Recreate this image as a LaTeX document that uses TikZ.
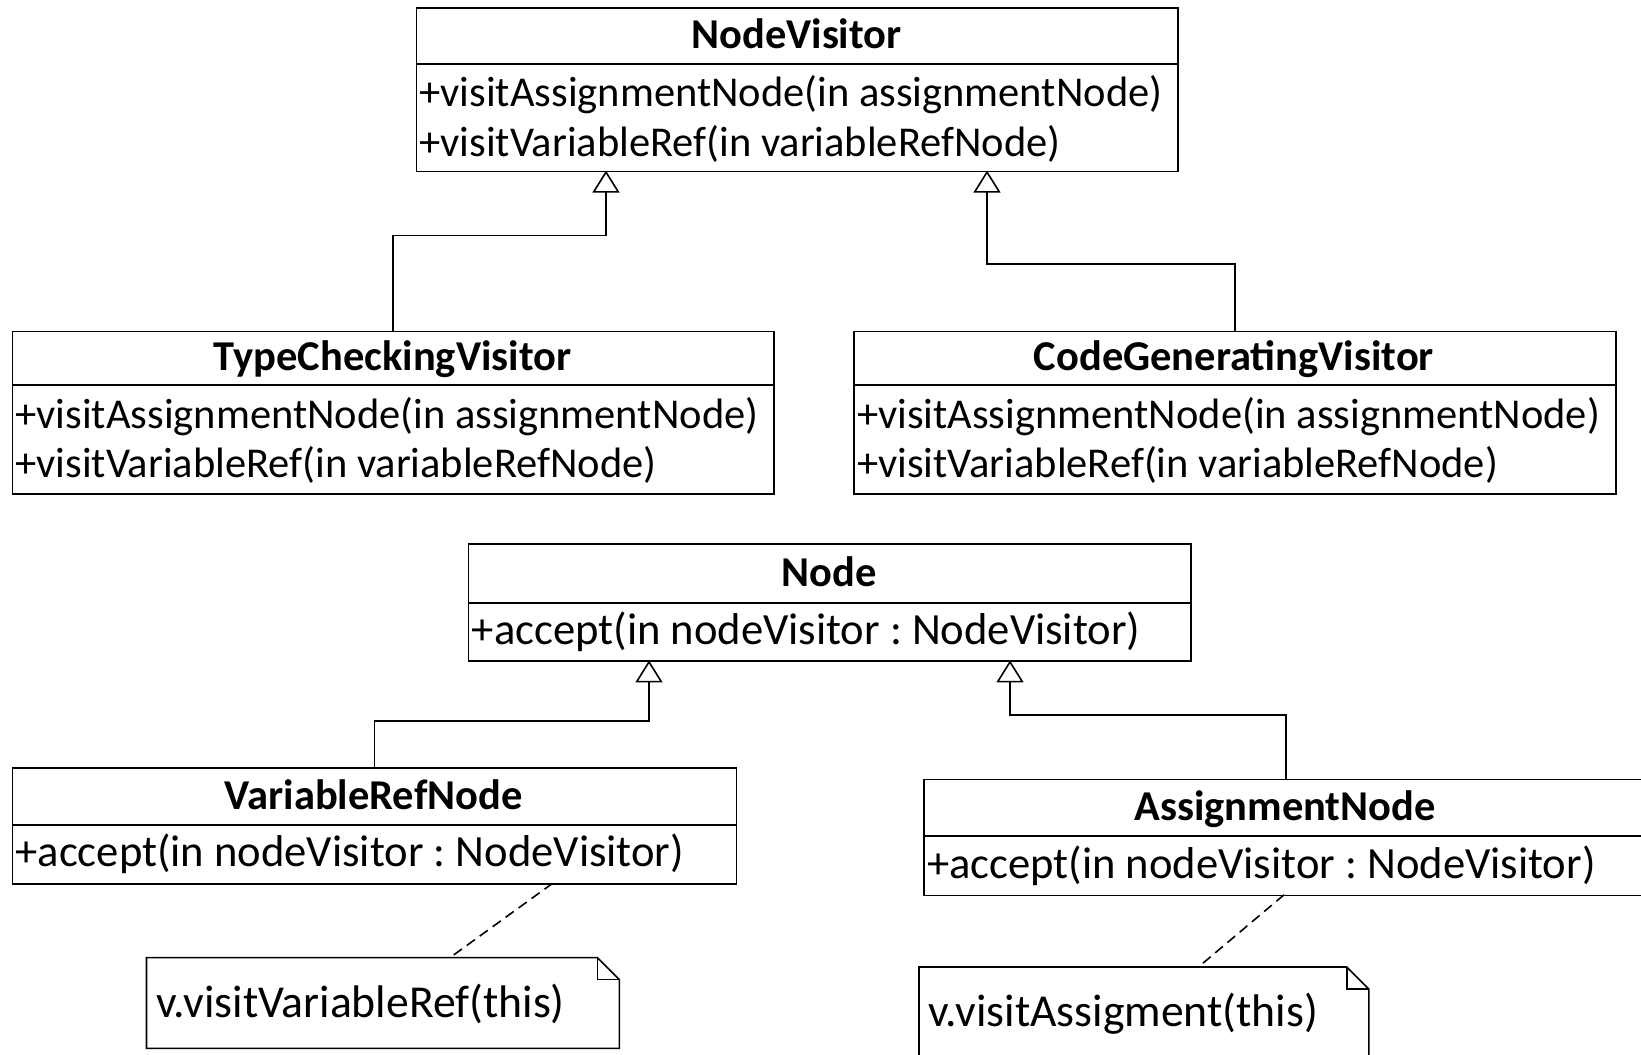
\documentclass[tikz,border=0pt]{standalone}
\usepackage{fontspec}
\setmainfont{Carlito}
\usetikzlibrary{arrows.meta}
\frenchspacing

\newcommand\umlfont{\fontsize{21.25pt}{24.5pt}\selectfont}
\newcommand\accfont{\fontsize{22.3pt}{25pt}\selectfont}
\newcommand\notefont{\fontsize{22.85pt}{26pt}\selectfont}

\tikzset{
  classbox/.style={draw, line width=0.8pt, anchor=north west, inner sep=0pt},
  ttl/.style={font=\umlfont\bfseries, text height=0.5em, text depth=0.5em, inner sep=0pt, yshift=-6.5pt},
  op/.style={font=\umlfont, anchor=west, text height=0.5em, text depth=0.5em, inner xsep=1.8pt, inner ysep=0pt, yshift=-7.35pt},
  acc/.style={op, font=\accfont, yshift=0.55pt},
  notetext/.style={op, font=\notefont, inner xsep=0pt, yshift=-0.4pt},
  sepline/.style={line width=0.8pt},
  inh/.style={line width=0.8pt, -{Triangle[open, length=11pt, width=13.5pt, fill=white]}},
  notelink/.style={line width=0.8pt, dash pattern=on 5pt off 3pt},
  notebox/.style={anchor=north west, inner sep=0pt},
  noteline/.style={line width=0.8pt, line join=miter},
}

\begin{document}
\begin{tikzpicture}[x=0.5pt, y=-0.5pt]
\useasboundingbox (0,0) rectangle (1641,1054);
\clip (0,0) rectangle (1641,1054);
\fill[white] (0,0) rectangle (1641,1054);

% ---------- NodeVisitor ----------
\node[classbox, minimum width=380.95pt, minimum height=81.65pt] (nv) at (415.5,7.3) {};
\draw[sepline] (415.5,63.8) -- (1177.4,63.8);
\node[ttl] (nvT) at (796.5,35.5) {NodeVisitor};
\node[op] (nv1) at (415.5,92) {+visitAssignmentNode(in assignmentNode)};
\node[op] (nv2) at (415.5,141.3) {+visitVariableRef(in variableRefNode)};

% ---------- TypeCheckingVisitor ----------
\node[classbox, minimum width=380.95pt, minimum height=81.15pt] (tc) at (11.5,330.7) {};
\draw[sepline] (11.5,385.1) -- (773.4,385.1);
\node[ttl] (tcT) at (392.5,357.9) {TypeCheckingVisitor};
\node[op] (tc1) at (11.5,413.4) {+visitAssignmentNode(in assignmentNode)};
\node[op] (tc2) at (11.5,463) {+visitVariableRef(in variableRefNode)};

% ---------- CodeGeneratingVisitor ----------
\node[classbox, minimum width=380.95pt, minimum height=81.15pt] (cg) at (853,330.7) {};
\draw[sepline] (853,385.1) -- (1614.9,385.1);
\node[ttl] (cgT) at (1234,357.9) {CodeGeneratingVisitor};
\node[op] (cg1) at (853,413.4) {+visitAssignmentNode(in assignmentNode)};
\node[op] (cg2) at (853,463) {+visitVariableRef(in variableRefNode)};

% ---------- Node ----------
\node[classbox, minimum width=361.1pt, minimum height=58.6pt] (nd) at (467.8,543.2) {};
\draw[sepline] (467.8,602.8) -- (1190,602.8);
\node[ttl] (ndT) at (829,573) {Node};
\node[acc] (nd1) at (467.8,631.1) {+accept(in nodeVisitor : NodeVisitor)};

% ---------- VariableRefNode ----------
\node[classbox, minimum width=362.15pt, minimum height=58.05pt] (vr) at (11.5,767.2) {};
\draw[sepline] (11.5,824.7) -- (735.8,824.7);
\node[ttl] (vrT) at (373.6,796) {VariableRefNode};
\node[acc] (vr1) at (11.5,853) {+accept(in nodeVisitor : NodeVisitor)};

% ---------- AssignmentNode ----------
\node[classbox, minimum width=362pt, minimum height=58.05pt] (an) at (923,778.7) {};
\draw[sepline] (923,836.2) -- (1647,836.2);
\node[ttl] (anT) at (1285,807.5) {AssignmentNode};
\node[acc] (an1) at (923,864.5) {+accept(in nodeVisitor : NodeVisitor)};

% ---------- inheritance connectors ----------
\coordinate (nvL) at (606,170.6);
\coordinate (nvR) at (987,170.6);
\coordinate (ndL) at (649,660.4);
\coordinate (ndR) at (1010,660.4);
\draw[inh] (tc.north) |- ([yshift=-32.45pt]nvL) -- (nvL);
\draw[inh] (cg.north) |- ([yshift=-46.55pt]nvR) -- (nvR);
\draw[inh] (vr.north) |- ([yshift=-30.3pt]ndL) -- (ndL);
\draw[inh] (an.north) |- ([yshift=-27.2pt]ndR) -- (ndR);

% ---------- notes ----------
\node[notebox, minimum width=236pt, minimum height=45pt] (n1) at (146.5,957.6) {};
\draw[noteline] (n1.north west) -- ([xshift=-11pt]n1.north east) -- ([yshift=-11pt]n1.north east)
  -- (n1.south east) -- (n1.south west) -- cycle;
\draw[noteline] ([xshift=-11pt]n1.north east) |- ([yshift=-11pt]n1.north east);
\node[notetext] (n1t) at (156.5,1001.6) {v.visitVariableRef(this)};

\node[notebox, minimum width=224.5pt, minimum height=45pt] (n2) at (919,967) {};
\draw[noteline] (n2.north west) -- ([xshift=-11pt]n2.north east) -- ([yshift=-11pt]n2.north east)
  -- (n2.south east) -- (n2.south west) -- cycle;
\draw[noteline] ([xshift=-11pt]n2.north east) |- ([yshift=-11pt]n2.north east);
\node[notetext] (n2t) at (928.5,1011) {v.visitAssigment(this)};

% ---------- note attachments ----------
\coordinate (vrA) at (552.6,883.3);
\coordinate (n1A) at (450,957.6);
\coordinate (anA) at (1284,894.8);
\coordinate (n2A) at (1198.4,967);
\draw[notelink] (vrA) -- (n1A);
\draw[notelink] (anA) -- (n2A);
\end{tikzpicture}
\end{document}
